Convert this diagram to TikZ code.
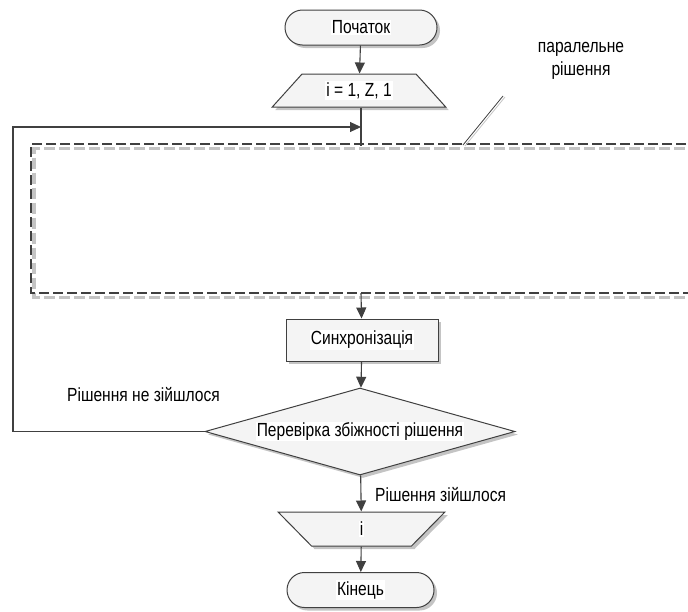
\documentclass[tikz,border=0pt]{standalone}
\usepackage{fontspec}
\setmainfont{Liberation Sans}[FakeStretch=0.82]
\usetikzlibrary{shapes.geometric,shapes.misc,shadows,arrows.meta}
\definecolor{ink}{HTML}{404040}
\definecolor{shadowgray}{HTML}{C4C4C4}
\definecolor{boxfill}{HTML}{F4F4F4}
\begin{document}
\begin{tikzpicture}[x=1pt,y=-1pt,
  font=\fontsize{19}{23}\selectfont,
  base/.style={draw=ink, line width=1pt, fill=boxfill, inner sep=0pt,
    drop shadow={shadow xshift=3pt, shadow yshift=-3pt, fill=shadowgray, opacity=1}},
  textbg/.style={fill=white, inner sep=1pt, text=black},
  term/.style={base, rounded rectangle, minimum height=35pt},
  datain/.style={base, trapezium, trapezium left angle=48, trapezium right angle=48,
    inner xsep=57pt, inner ysep=16.5pt},
  dataout/.style={base, trapezium, shape border rotate=180,
    trapezium left angle=45.5, trapezium right angle=45.5,
    inner xsep=50pt, inner ysep=17pt},
  proc/.style={base, rectangle, minimum width=152pt, minimum height=42pt},
  cond/.style={base, diamond, minimum width=310pt, minimum height=87pt},
  line/.style={draw=ink, line width=1.1pt},
  flow/.style={line, -{Triangle[length=11pt,width=10pt]}},
  tag/.style={inner sep=0pt, text=black}
]
\useasboundingbox (0,0) rectangle (688,611);

% parallel region: grey shadow under a dark dashed frame
\draw[shadowgray, line width=3.2pt, dash pattern=on 11pt off 4pt]
  (700,148.5) -- (34,148.5) -- (34,297.5) -- (700,297.5);
\draw[ink, line width=1.1pt, dash pattern=on 10pt off 4pt]
  (700,144) -- (31,144) -- (31,293) -- (700,293);

% blocks
\node[term, minimum width=152pt, label={[textbg]center:Початок}] (start) at (361,27.5) {};
\node[datain, label={[textbg]center:i = 1, Z, 1}] (input) at (359,90.5) {};
\node[proc, label={[textbg]center:Синхронізація}] (sync) at (362,340) {};
\node[cond, label={[textbg]center:Перевірка збіжності рішення}] (check) at (360,431.5) {};
\node[dataout, label={[textbg]center:i}] (out) at (361.5,529) {};
\node[term, minimum width=147pt, label={[textbg]center:Кінець}] (finish) at (360.5,590) {};

% connection points on the parallel frame and the loop path
\coordinate (parin) at (361,146);
\coordinate (parout) at (361,293);
\coordinate (join) at (361,127);
\coordinate (loopx) at (13,0);

% connectors
\draw[flow] (start) -- (input);
\draw[line] (input.south -| parin) -- (parin);
\draw[flow] (parout) -- (sync);
\draw[flow] (sync) -- (check);
\draw[flow] (check) -- (out);
\draw[flow] (out) -- (finish);
\draw[flow] (check.west) -- (check.west -| loopx) |- (join);

% edge labels
\node[tag] (nolabel) at (143.5,395) {Рішення не зійшлося};
\node[tag, anchor=west] (yeslabel) at (375,495) {Рішення зійшлося};

% annotation with its leader line
\node[tag, align=center] (note) at (581,61) {паралельне\\рішення};
\coordinate (leadlow) at (463,145);
\coordinate (leadhigh) at (503,96);
\draw[shadowgray, line width=0.8pt] ([shift={(2,1)}]leadlow) -- ([shift={(2,1)}]leadhigh);
\draw[ink, line width=0.8pt] (leadlow) -- (leadhigh);
\end{tikzpicture}
\end{document}
